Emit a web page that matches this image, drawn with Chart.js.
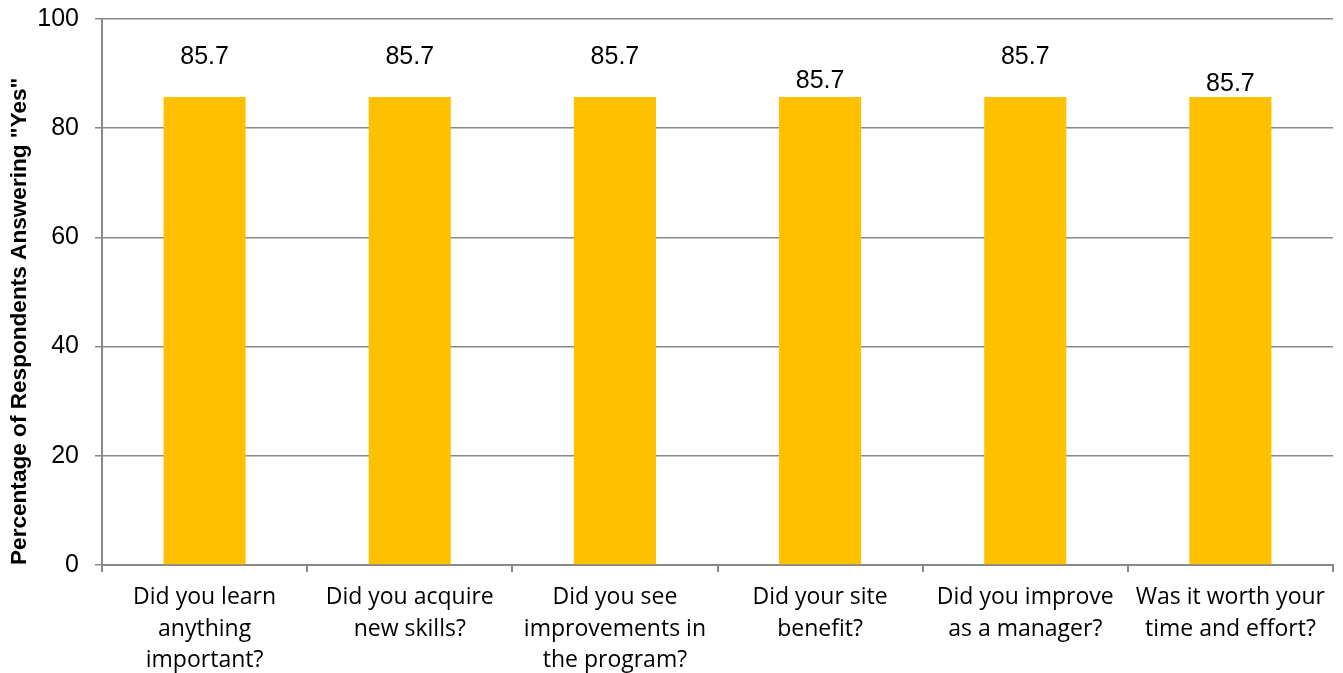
<!DOCTYPE html>
<html>
<head>
<meta charset="utf-8">
<title>Respondents answering Yes</title>
<script src="https://cdn.jsdelivr.net/npm/chart.js@4.4.0/dist/chart.umd.min.js"></script>
<style>
  html, body { margin: 0; padding: 0; background: #fff; overflow: hidden; }
  #wrap { position: relative; width: 1343px; height: 673px; }
</style>
</head>
<body>
<div id="wrap"><canvas id="chart1"></canvas></div>
<script>
/* survey questions and share of "Yes" answers */
const questions = [
  ['Did you learn', 'anything', 'important?'],
  ['Did you acquire', 'new skills?'],
  ['Did you see', 'improvements in', 'the program?'],
  ['Did your site', 'benefit?'],
  ['Did you improve', 'as a manager?'],
  ['Was it worth your', 'time and effort?']
];
const yesPercent = [85.7, 85.7, 85.7, 85.7, 85.7, 85.7];
const yTicks = [0, 20, 40, 60, 80, 100];

/* draws the value above each bar; some labels sit higher than others */
const valueLabels = {
  id: 'valueLabels',
  afterDatasetsDraw(chart, args, opts) {
    const ctx = chart.ctx;
    const meta = chart.getDatasetMeta(0);
    ctx.save();
    ctx.font = '25px "Liberation Sans", Arial, sans-serif';
    ctx.fillStyle = '#000';
    ctx.textAlign = 'center';
    ctx.textBaseline = 'middle';
    meta.data.forEach((bar, i) => {
      ctx.fillText(chart.data.datasets[0].data[i].toFixed(1), bar.x, bar.y - opts.lift[i]);
    });
    ctx.restore();
  }
};

const chart1 = document.getElementById('chart1');
const myChart1 = new Chart(chart1, {
  type: 'bar',
  data: {
    labels: questions,
    datasets: [{
      label: 'Yes',
      data: yesPercent,
      backgroundColor: '#FFC000',
      barPercentage: 0.4,
      categoryPercentage: 1.0
    }]
  },
  plugins: [valueLabels],
  options: {
    responsive: true,
    maintainAspectRatio: false,
    animation: false,
    layout: {
      padding: { top: 19, right: 10, left: 6, bottom: 0 }
    },
    plugins: {
      legend: { display: false },
      tooltip: { enabled: false },
      valueLabels: { lift: [40, 40, 40, 16, 40, 13] }
    },
    scales: {
      x: {
        // room for three wrapped lines under the axis
        afterFit: (axis) => { axis.height = 108; },
        grid: {
          display: true,
          drawOnChartArea: false,
          offset: true,
          tickLength: 7,
          color: '#888',
          lineWidth: 2
        },
        border: { color: '#888', width: 2 },
        ticks: {
          color: '#000',
          font: { family: '"Open Sans", "Liberation Sans", sans-serif', size: 23, lineHeight: 1.39 },
          maxRotation: 0,
          padding: 9
        }
      },
      y: {
        min: 0,
        max: 100,
        afterBuildTicks: (axis) => { axis.ticks = yTicks.map(v => ({ value: v })); },
        afterFit: (axis) => { axis.width = 96; },
        grid: {
          color: '#888',
          lineWidth: 1.5,
          tickLength: 7
        },
        border: { color: '#888', width: 2 },
        ticks: {
          color: '#000',
          // small lineHeight keeps the top label from pushing the plot down
          font: { family: '"Liberation Sans", Arial, sans-serif', size: 25, lineHeight: 0.1 },
          padding: 16
        },
        title: {
          display: true,
          align: 'start',
          text: 'Percentage of Respondents Answering "Yes"',
          color: '#000',
          font: { family: '"Liberation Sans", Arial, sans-serif', size: 22.6, weight: 'bold' },
          padding: { top: 0, bottom: 2 }
        }
      }
    }
  }
});
</script>
</body>
</html>
